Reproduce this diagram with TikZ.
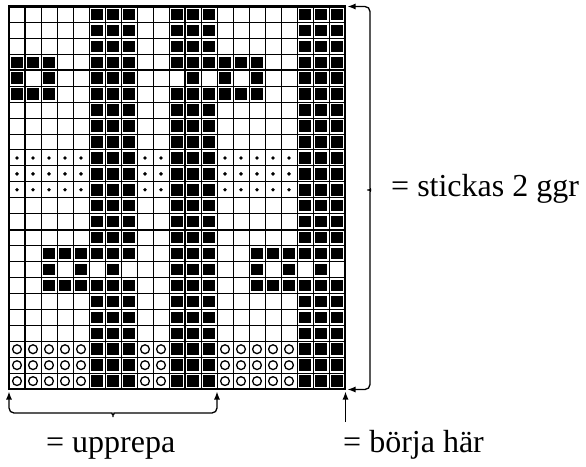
\documentclass[tikz,border=0pt]{standalone}
\usepackage{fontspec}
\setmainfont{Liberation Serif}
\usetikzlibrary{arrows.meta}
\newcommand\sqB[2]{\fill ({9+16*(#1-1)+2.3},{6.5+15.94*(#2-1)+2.2}) rectangle +(11.4,11.5);}
\newcommand\dotC[2]{\fill ({1+16*#1},{6.5+15.94*(#2-0.5)}) circle[radius=1.9pt];}
\newcommand\ringC[2]{\draw[line width=1.3pt] ({1+16*#1},{6.5+15.94*(#2-0.5)}) circle[radius=4.4pt];}
\begin{document}
\begin{tikzpicture}[x=1pt,y=-1pt,
  gridthin/.style={line width=1pt},
  gridthick/.style={line width=2pt},
  border/.style={line width=2.8pt},
  pointer/.style={line width=1.3pt,-{Latex[length=8pt,width=6pt]}},
  twopointer/.style={line width=1.3pt,{Latex[length=8pt,width=6pt]}-{Latex[length=8pt,width=6pt]},rounded corners=5pt},
  lbl/.style={anchor=base west,inner sep=0pt,font=\fontsize{32}{38}\selectfont}]
\fill[white] (0,0) rectangle (586,466);
\useasboundingbox (0,0) rectangle (586,466);
% black squares
\foreach \r in {1,2,3,7,8,9,10,11,12,13,14,15,19,20,21,22,23,24} {\foreach \c in {6,7,8,11,12,13,19,20,21} {\sqB{\c}{\r}}}
\foreach \r in {4,6} {\foreach \c in {1,2,3,6,7,8,11,12,13,14,15,16,19,20,21} {\sqB{\c}{\r}}}
\foreach \c in {1,3,6,7,8,12,14,16,19,20,21} {\sqB{\c}{5}}
\foreach \r in {16,18} {\foreach \c in {3,4,5,6,7,8,11,12,13,16,17,18,19,20,21} {\sqB{\c}{\r}}}
\foreach \c in {3,5,7,11,12,13,16,18,20} {\sqB{\c}{17}}
% dots and rings
\foreach \r in {10,11,12} {\foreach \c in {1,2,3,4,5,9,10,14,15,16,17,18} {\dotC{\c}{\r}}}
\foreach \r in {22,23,24} {\foreach \c in {1,2,3,4,5,9,10,14,15,16,17,18} {\ringC{\c}{\r}}}
% grid
\foreach \i in {1,...,20} {\draw[gridthin] ({9+16*\i},6.5) -- ({9+16*\i},389);}
\foreach \j in {1,...,23} {\draw[gridthin] (9,{6.5+15.94*\j}) -- (345,{6.5+15.94*\j});}
\draw[gridthick] (25,6.5) -- (25,389);
\draw[gridthick] (185,6.5) -- (185,389);
\draw[gridthick] (9,{6.5+15.94*4}) -- (345,{6.5+15.94*4});
\draw[gridthick] (9,{6.5+15.94*14}) -- (345,{6.5+15.94*14});
\draw[border] (9,6.5) rectangle (345,389);
% annotation points
\coordinate (gridNE) at (347.5,6.5);
\coordinate (gridSE) at (347.5,389.5);
\coordinate (gridSW) at (9,391.5);
\coordinate (repEnd) at (217,391.5);
\coordinate (startPt) at (345.5,391.5);
\coordinate (startTail) at (345.5,422);
% labels
\node[lbl] (twice) at (391,196) {= stickas 2 ggr};
\node[lbl] (repeat) at (46,452) {= upprepa};
\node[lbl] (start) at (343,452) {= börja här};
% braces and arrow
\draw[twopointer] (gridNE) -- (370,6.5) -- (370,183) .. controls (370,188) and (371.5,190) .. (374,190) .. controls (371.5,190) and (370,192) .. (370,197) -- (370,389.5) -- (gridSE);
\draw[twopointer] (gridSW) -- (9,413) -- (107,413) .. controls (111,413) and (113,415) .. (113,420) .. controls (113,415) and (115,413) .. (119,413) -- (217,413) -- (repEnd);
\draw[pointer] (startTail) -- (startPt);
\end{tikzpicture}
\end{document}
